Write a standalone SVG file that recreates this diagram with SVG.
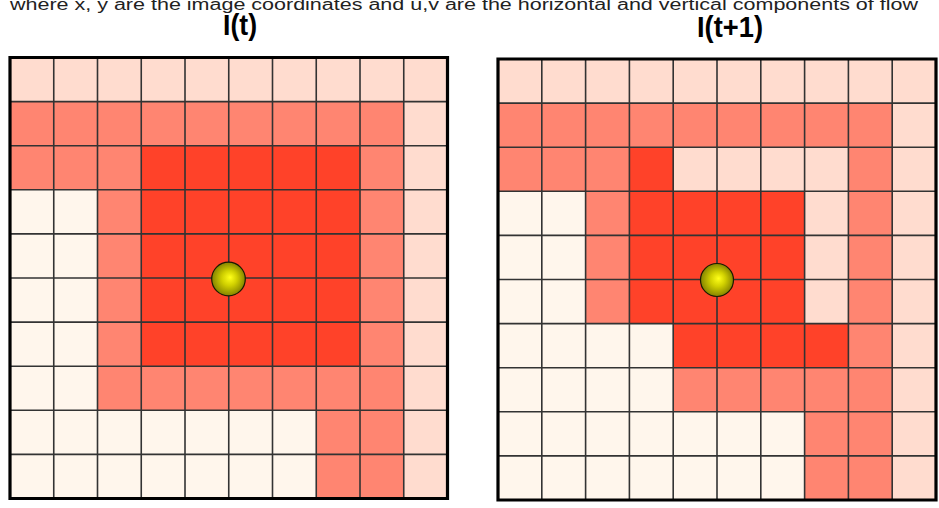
<svg xmlns="http://www.w3.org/2000/svg" width="939" height="508" viewBox="0 0 939 508">
<style>
.c{fill:#FFF6EC}
.l{fill:#FFDCCF}
.m{fill:#FF8571}
.r{fill:#FF4229}
.lines{fill:none;stroke:#333;stroke-width:1.6}
.border{fill:none;stroke:#000;stroke-width:3.2}
.cap{font-family:"Liberation Sans",Arial,sans-serif;font-size:16px;fill:#222}
.title{font-family:"Liberation Sans",Arial,sans-serif;font-size:30px;font-weight:bold;fill:#000}
.dot{stroke:#1a1a00;stroke-width:1.2}
</style>
<defs>
<radialGradient id="ball" cx="0.5" cy="0.5" r="0.5" fx="0.55" fy="0.45">
<stop offset="0" stop-color="#FFFF1A"/>
<stop offset="0.45" stop-color="#D0D000"/>
<stop offset="1" stop-color="#858300"/>
</radialGradient>
</defs>
<rect width="939" height="508" fill="#fff"/>
<text class="cap" x="10" y="10" textLength="908" lengthAdjust="spacingAndGlyphs">where x, y are the image coordinates and u,v are the horizontal and vertical components of flow</text>
<text class="title" x="240" y="35" text-anchor="middle" textLength="34" lengthAdjust="spacingAndGlyphs">I(t)</text>
<text class="title" x="730" y="37" text-anchor="middle" textLength="66" lengthAdjust="spacingAndGlyphs">I(t+1)</text>

<g id="grid-t" transform="translate(10,57.5) scale(43.75,44.1)">
<rect class="c" x="0" y="0" width="10" height="10"/>
<rect class="m" x="0" y="1" width="9" height="2"/>
<rect class="m" x="2" y="3" width="7" height="5"/>
<rect class="m" x="7" y="8" width="2" height="2"/>
<rect class="r" x="3" y="2" width="5" height="5"/>
<rect class="l" x="0" y="0" width="10" height="1"/>
<rect class="l" x="9" y="0" width="1" height="10"/>
<path class="lines" vector-effect="non-scaling-stroke" d="M0 1H10M0 2H10M0 3H10M0 4H10M0 5H10M0 6H10M0 7H10M0 8H10M0 9H10M1 0V10M2 0V10M3 0V10M4 0V10M5 0V10M6 0V10M7 0V10M8 0V10M9 0V10"/>
<rect class="border" vector-effect="non-scaling-stroke" x="0" y="0" width="10" height="10"/>
</g>

<g id="grid-t1" transform="translate(498,59) scale(43.8,44.1)">
<rect class="c" x="0" y="0" width="10" height="10"/>
<rect class="m" x="0" y="1" width="9" height="2"/>
<rect class="m" x="2" y="3" width="1" height="3"/>
<rect class="m" x="8" y="3" width="1" height="5"/>
<rect class="m" x="4" y="7" width="4" height="1"/>
<rect class="m" x="7" y="8" width="2" height="2"/>
<rect class="l" x="0" y="0" width="10" height="1"/>
<rect class="l" x="9" y="0" width="1" height="10"/>
<rect class="l" x="4" y="2" width="4" height="1"/>
<rect class="l" x="7" y="3" width="1" height="3"/>
<rect class="r" x="3" y="2" width="1" height="4"/>
<rect class="r" x="4" y="3" width="3" height="3"/>
<rect class="r" x="4" y="6" width="4" height="1"/>
<path class="lines" vector-effect="non-scaling-stroke" d="M0 1H10M0 2H10M0 3H10M0 4H10M0 5H10M0 6H10M0 7H10M0 8H10M0 9H10M1 0V10M2 0V10M3 0V10M4 0V10M5 0V10M6 0V10M7 0V10M8 0V10M9 0V10"/>
<rect class="border" vector-effect="non-scaling-stroke" x="0" y="0" width="10" height="10"/>
</g>

<g id="point-t"><circle class="dot" cx="228.5" cy="279" r="16.8" fill="url(#ball)"/></g>
<g id="point-t1"><circle class="dot" cx="717" cy="280" r="16.5" fill="url(#ball)"/></g>
</svg>
